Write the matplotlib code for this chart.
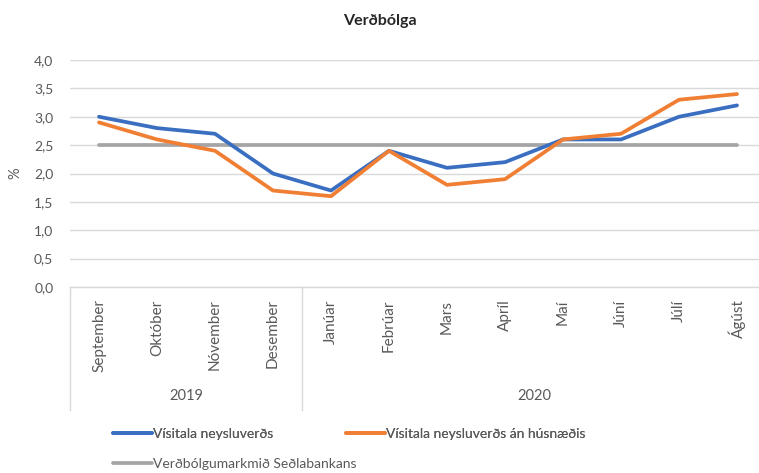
import matplotlib.pyplot as plt
import matplotlib.transforms as mtransforms

plt.rcParams['font.family'] = ['Lato', 'DejaVu Sans']

months = ["September", "Október", "Nóvember", "Desember", "Janúar", "Febrúar",
          "Mars", "Apríl", "Maí", "Júní", "Júlí", "Ágúst"]
years = ["2019", "2020"]
year_counts = [4, 8]
cpi = [3.0, 2.8, 2.7, 2.0, 1.7, 2.4, 2.1, 2.2, 2.6, 2.6, 3.0, 3.2]
cpi_ex_housing = [2.9, 2.6, 2.4, 1.7, 1.6, 2.4, 1.8, 1.9, 2.6, 2.7, 3.3, 3.4]
target = [2.5] * len(months)

W, H = 759, 473
fig = plt.figure(figsize=(W / 100, H / 100), dpi=100)
ax = fig.add_axes([70 / W, 1 - 287 / H, (766 - 70) / W, (287 - 60) / H])

x = list(range(len(months)))
l1, = ax.plot(x, cpi, color="#3A6EC1", lw=2.7, label="Vísitala neysluverðs", solid_capstyle="round")
l2, = ax.plot(x, cpi_ex_housing, color="#F07F34", lw=2.7, label="Vísitala neysluverðs án húsnæðis", solid_capstyle="round")
l3, = ax.plot(x, target, color="#A5A5A5", lw=2.7, label="Verðbólgumarkmið Seðlabankans", solid_capstyle="round")
l3.set_zorder(1)

ax.set_xlim(-0.5, len(months) - 0.5)
ax.set_ylim(0, 4)
ax.set_yticks([i * 0.5 for i in range(9)])
ax.set_yticklabels([f"{i * 0.5:.1f}".replace(".", ",") for i in range(9)],
                   fontsize=10, color="#595959")
ax.grid(axis="y", color="#D9D9D9", lw=1)
ax.set_axisbelow(True)
for s in ax.spines.values():
    s.set_visible(False)
ax.tick_params(axis="y", length=0, pad=12)
ax.tick_params(axis="x", length=0, pad=9)
ax.set_xticks(x)
ax.set_xticklabels(months, rotation=90, fontsize=11, color="#595959", va="top")
ax.set_ylabel("%", fontsize=10.5, color="#595959", labelpad=8)

# category box with year groups
trans = mtransforms.blended_transform_factory(ax.transData, ax.transAxes)
box_bottom = -(410 - 287) / (287 - 60)
ax.plot([-0.5, len(months) - 0.5], [0, 0], color="#D9D9D9", lw=1, transform=trans, clip_on=False)
start = 0
for yr, n in zip(years, year_counts):
    ax.plot([start - 0.5, start - 0.5], [0, box_bottom], color="#D9D9D9", lw=1,
            transform=trans, clip_on=False)
    ax.text(start + (n - 1) / 2, -(396 - 287) / (287 - 60), yr, transform=trans,
            ha="center", va="center", fontsize=10.5, color="#595959")
    start += n
ax.plot([start - 0.5, start - 0.5], [0, box_bottom], color="#D9D9D9", lw=1,
        transform=trans, clip_on=False)

fig.text(380 / W, 1 - 21 / H, "Verðbólga", ha="center", va="center",
         fontsize=11.5, fontweight="bold", color="#262626")

leg_kw = dict(loc="center left", frameon=False, fontsize=10, labelcolor="#595959",
              handlelength=2.8, handletextpad=0.1, borderaxespad=0, borderpad=0)
leg1 = fig.legend([l1, l2], [l1.get_label(), l2.get_label()], ncol=2,
                  bbox_to_anchor=(113 / W, 1 - 434 / H), columnspacing=5.2, **leg_kw)
fig.add_artist(leg1)
fig.legend([l3], [l3.get_label()], bbox_to_anchor=(113 / W, 1 - 464 / H), **leg_kw)

fig.savefig("out.png", dpi=100)
